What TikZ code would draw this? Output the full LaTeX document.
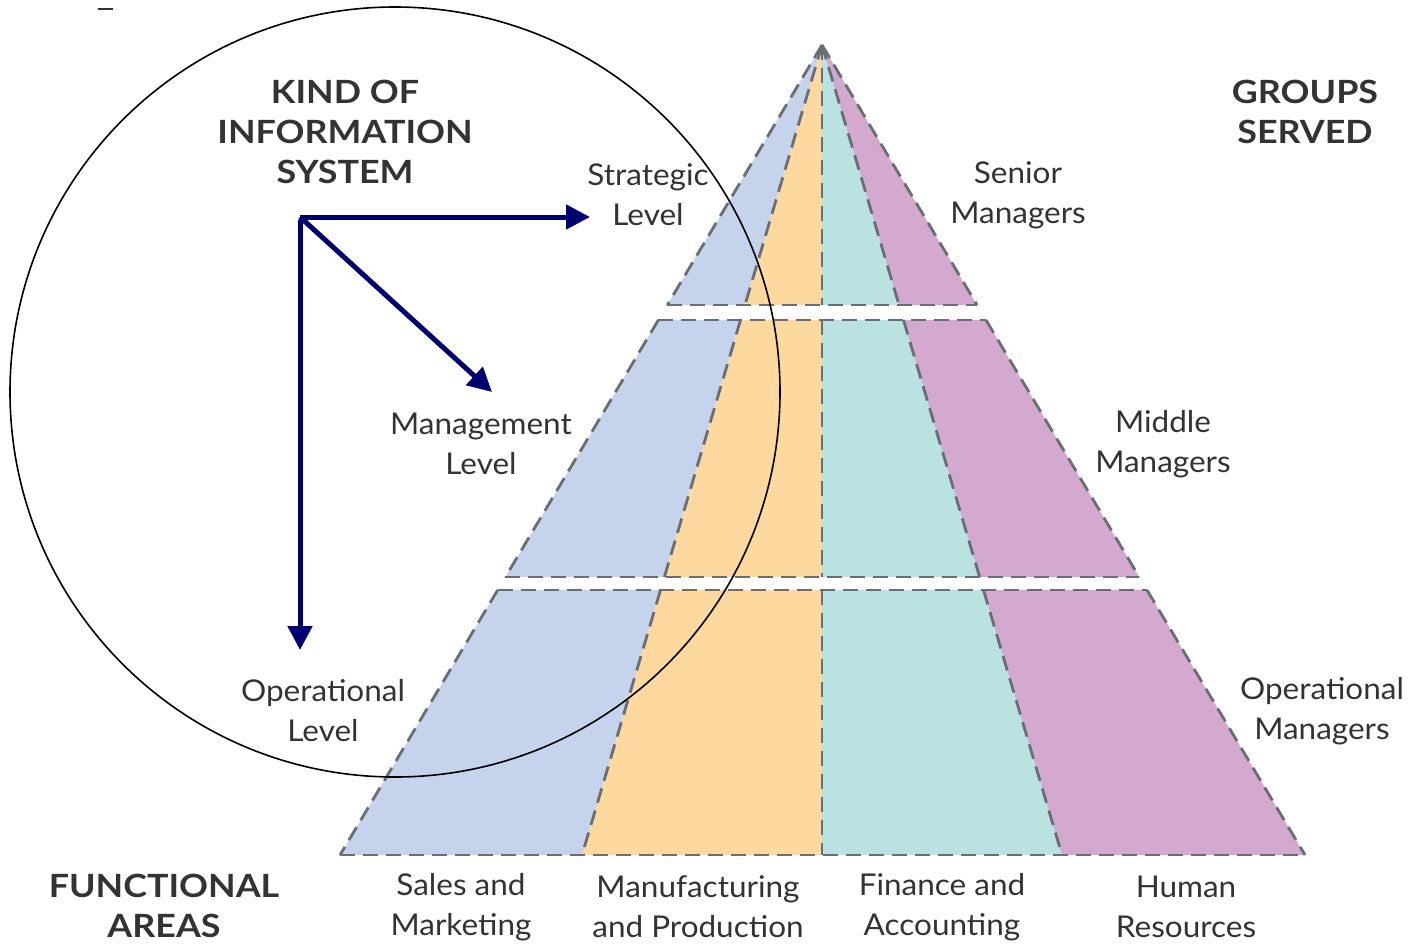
\documentclass[tikz,border=0pt]{standalone}
\usepackage{fontspec}
\setmainfont{Lato}
\newfontfamily\labelfont[FakeStretch=1.05]{Lato}
\newfontfamily\headfont[FakeStretch=1.12]{Lato}
\usetikzlibrary{calc,arrows.meta}
\definecolor{cblue}{HTML}{C5D3EC}
\definecolor{corange}{HTML}{FDD9A0}
\definecolor{cteal}{HTML}{BAE2E2}
\definecolor{cpurple}{HTML}{D3A9CF}
\definecolor{dashgray}{HTML}{6A6E72}
\definecolor{txt}{HTML}{333333}
\definecolor{navy}{HTML}{000070}
\tikzset{
  lbl/.style={align=center, text=txt, inner sep=0pt, font=\labelfont\fontsize{30}{40}\selectfont},
  head/.style={align=center, text=txt, inner sep=0pt, font=\headfont\fontsize{32}{40}\selectfont\bfseries},
  dashline/.style={draw=dashgray, line width=2.8pt, dash pattern=on 15pt off 8pt},
  navarrow/.style={draw=navy, line width=5pt, -{Triangle[length=24pt,width=24pt]}},
}
\newcommand{\pyrband}[2]{%
  \coordinate (L1) at ($(A)!#1!(BL)$);
  \coordinate (M1) at ($(A)!#1!(BML)$);
  \coordinate (C1) at ($(A)!#1!(BC)$);
  \coordinate (N1) at ($(A)!#1!(BMR)$);
  \coordinate (R1) at ($(A)!#1!(BR)$);
  \coordinate (L2) at ($(A)!#2!(BL)$);
  \coordinate (M2) at ($(A)!#2!(BML)$);
  \coordinate (C2) at ($(A)!#2!(BC)$);
  \coordinate (N2) at ($(A)!#2!(BMR)$);
  \coordinate (R2) at ($(A)!#2!(BR)$);
  \fill[cblue] (L1) -- (M1) -- (M2) -- (L2) -- cycle;
  \fill[corange] (M1) -- (C1) -- (C2) -- (M2) -- cycle;
  \fill[cteal] (C1) -- (N1) -- (N2) -- (C2) -- cycle;
  \fill[cpurple] (N1) -- (R1) -- (R2) -- (N2) -- cycle;
  \draw[dashline] (L1) -- (L2);
  \draw[dashline] (M1) -- (M2);
  \draw[dashline] (C1) -- (C2);
  \draw[dashline] (N1) -- (N2);
  \draw[dashline] (R1) -- (R2);
  \draw[dashline] (L2) -- (R2);
}
\begin{document}
\begin{tikzpicture}[x=1pt,y=-1pt]
\useasboundingbox (0,0) rectangle (1410,945);
\fill[white] (0,0) rectangle (1410,945);
\coordinate (A) at (822,45);
\coordinate (BL) at (340,855);
\coordinate (BML) at (582,855);
\coordinate (BC) at (822,855);
\coordinate (BMR) at (1062,855);
\coordinate (BR) at (1305,855);
% bands
\pyrband{0}{0.3210}
\pyrband{0.3395}{0.6568}
\draw[dashline] (L1) -- (R1);
\pyrband{0.6728}{1}
\draw[dashline] (L1) -- (R1);
% small mark top-left
\coordinate (m1) at (98,9);
\coordinate (m2) at (113,9);
\draw[line width=1.5pt, draw=txt] (m1) -- (m2);
% circle
\coordinate (cc) at (395,392);
\draw[line width=1.6pt] (cc) circle[radius=385];
% headings
\node[head] (kind) at (345,132) {KIND OF\\INFORMATION\\SYSTEM};
\node[head] (groups) at (1305,112) {GROUPS\\SERVED};
\node[head] (func) at (164,906) {FUNCTIONAL\\AREAS};
% levels
\node[lbl] (strat) at (648,195) {Strategic\\Level};
\node[lbl] (mgmt) at (481,444) {Management\\Level};
\node[lbl] (oper) at (323,711) {Operational\\Level};
\node[lbl] (senior) at (1018,195) {Senior\\Managers};
\node[lbl] (middle) at (1163,444) {Middle\\Managers};
\node[lbl] (operm) at (1322,711) {Operational\\Managers};
% functional areas
\node[lbl] (sales) at (461,907) {Sales and\\Marketing};
\node[lbl] (manu) at (698,907) {Manufacturing\\and Production};
\node[lbl] (fin) at (942,907) {Finance and\\Accounting};
\node[lbl] (hr) at (1186,907) {Human\\Resources};
% arrows
\coordinate (hub) at (300,217);
\coordinate (toS) at (590,217);
\coordinate (toM) at (492,392);
\coordinate (toO) at (300,650);
\draw[navarrow] (hub) -- (toS);
\draw[navarrow] (hub) -- (toM);
\draw[navarrow] ([yshift=-2.5pt]hub) -- (toO);
\end{tikzpicture}
\end{document}
